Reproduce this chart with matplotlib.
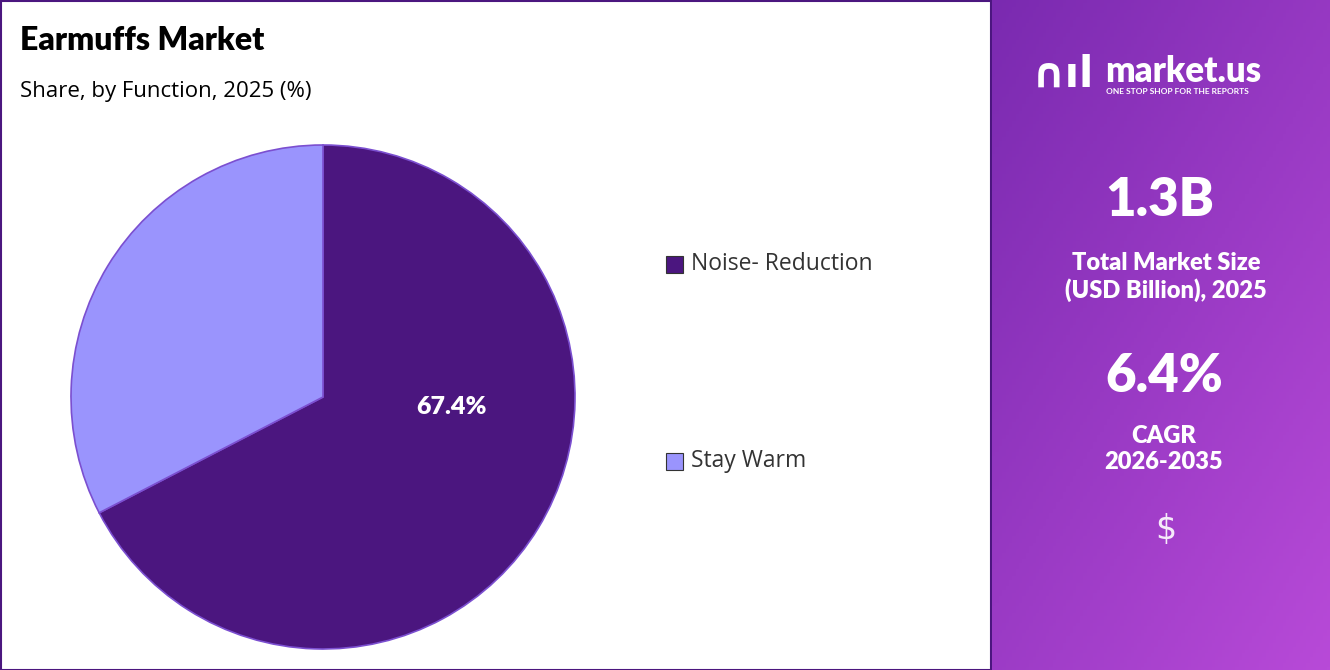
import matplotlib.pyplot as plt
import numpy as np

labels = ["Noise- Reduction", "Stay Warm"]
shares = [67.4, 32.6]
colors = ["#4b167f", "#9a94fd"]

W, H = 1330, 670
fig = plt.figure(figsize=(W / 100, H / 100), dpi=100)
fig.patch.set_facecolor("white")

# left frame
frame = fig.add_axes([0.5 / W, 0.5 / H, 990 / W, 1 - 1 / H])
frame.set_xticks([]); frame.set_yticks([])
for s in frame.spines.values():
    s.set_color("#4b167f"); s.set_linewidth(1.5)
frame.patch.set_alpha(0)

fig.text(20 / W, 1 - 40 / H, "Earmuffs Market", fontsize=23, fontweight="heavy",
         family="Lato", va="center")
fig.text(20 / W, 1 - 92 / H, "Share, by Function, 2025 (%)", fontsize=16,
         family="Open Sans", va="center")

# pie
cx, cy, r = 323, 397, 252
ax = fig.add_axes([(cx - r) / W, (H - cy - r) / H, 2 * r / W, 2 * r / H])
wedges, _ = ax.pie(shares, colors=colors, startangle=90, counterclock=False,
                   wedgeprops=dict(edgecolor="#7b4fd0", linewidth=1.2))
ax.set_aspect("auto")
ax.set_xlim(-1, 1); ax.set_ylim(-1, 1)
ax.text(0.51, -0.04, f"{shares[0]}%", color="white", fontsize=18,
        fontweight="heavy", family="Lato", ha="center", va="center")

# legend
for lab, col, y in zip(labels, colors, [264, 461]):
    fig.patches.append(plt.Rectangle((666 / W, 1 - (y + 9) / H), 17 / W, 17 / H,
                                     transform=fig.transFigure, facecolor=col,
                                     edgecolor="#333333", linewidth=0.8))
    fig.text(691 / W, 1 - y / H, lab, fontsize=16.5, family="Open Sans",
             color="#333333", va="center")

# right panel
rp = fig.add_axes([992 / W, 0, (W - 992) / W, 1])
yy, xx = np.mgrid[0:1:200j, 0:1:100j]
t = 0.55 * yy + 0.45 * xx
c0 = np.array([0x7a, 0x2a, 0xb0]) / 255
c1 = np.array([0xb8, 0x4a, 0xd8]) / 255
img = c0[None, None, :] * (1 - t[..., None]) + c1[None, None, :] * t[..., None]
rp.imshow(img, aspect="auto", extent=[0, 1, 0, 1], origin="upper")
rp.set_xlim(0, 1); rp.set_ylim(0, 1); rp.axis("off")

fig.text(1105 / W, 1 - 72 / H, "market.us", fontsize=25, fontweight="heavy",
         family="Lato", color="white", va="center")
fig.text(1106 / W, 1 - 91 / H, "ONE STOP SHOP FOR THE REPORTS", fontsize=6,
         fontweight="bold", family="Lato", color="white", va="center")
fig.text(1063 / W, 1 - 75 / H, "\u2229\u0131l", fontsize=30, fontweight="bold",
         color="white", va="center", ha="center")
fig.text(1160 / W, 1 - 200 / H, "1.3B", fontsize=38, fontweight="heavy",
         family="Lato", color="white", ha="center", va="center")
fig.text(1166 / W, 1 - 277 / H, "Total Market Size\n(USD Billion), 2025",
         fontsize=17, fontweight="heavy", family="Lato", color="white",
         ha="center", va="center", linespacing=1.25)
fig.text(1164 / W, 1 - 377 / H, "6.4%", fontsize=38, fontweight="heavy",
         family="Lato", color="white", ha="center", va="center")
fig.text(1164 / W, 1 - 449 / H, "CAGR\n2026-2035", fontsize=17,
         fontweight="heavy", family="Lato", color="white", ha="center",
         va="center", linespacing=1.25)
fig.text(1166 / W, 1 - 530 / H, "$", fontsize=24, color="white",
         ha="center", va="center", alpha=0.9)

fig.savefig("out.png", dpi=100)
